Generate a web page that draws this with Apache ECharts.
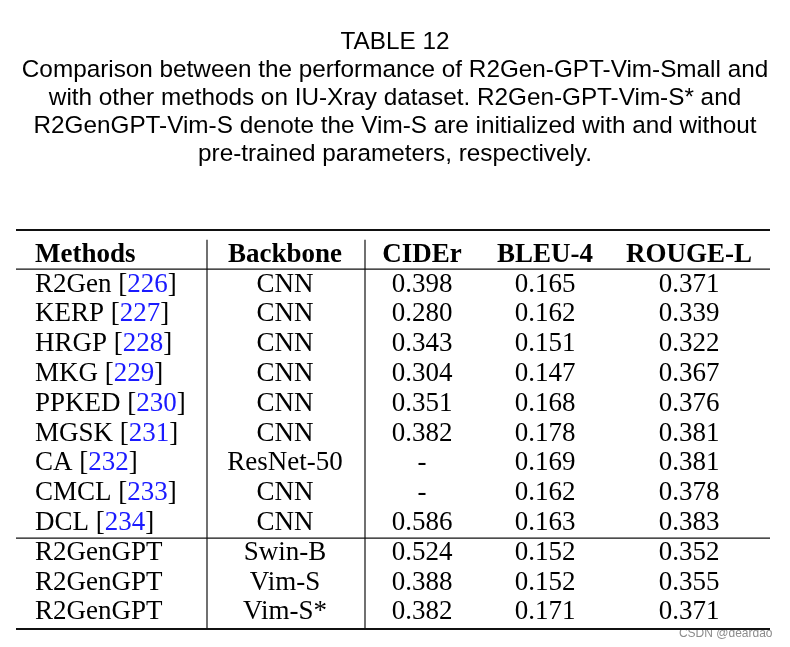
<!DOCTYPE html>
<html>
<head>
<meta charset="utf-8">
<script src="https://cdn.jsdelivr.net/npm/echarts@6/dist/echarts.min.js"></script>
<style>
html,body{margin:0;padding:0;background:#fff;}
#chart{width:790px;height:647px;}
</style>
</head>
<body>
<div id="chart"></div>
<script>
// ---- data ----
var titleText = 'TABLE 12';
var captionLines = [
  'Comparison between the performance of R2Gen-GPT-Vim-Small and',
  'with other methods on IU-Xray dataset. R2Gen-GPT-Vim-S* and',
  'R2GenGPT-Vim-S denote the Vim-S are initialized with and without',
  'pre-trained parameters, respectively.'
];
var headers = ['Methods', 'Backbone', 'CIDEr', 'BLEU-4', 'ROUGE-L'];
var methods = ['R2Gen', 'KERP', 'HRGP', 'MKG', 'PPKED', 'MGSK', 'CA', 'CMCL', 'DCL', 'R2GenGPT', 'R2GenGPT', 'R2GenGPT'];
var refs = ['226', '227', '228', '229', '230', '231', '232', '233', '234', '', '', ''];
var backbones = ['CNN', 'CNN', 'CNN', 'CNN', 'CNN', 'CNN', 'ResNet-50', 'CNN', 'CNN', 'Swin-B', 'Vim-S', 'Vim-S*'];
var cider = [0.398, 0.280, 0.343, 0.304, 0.351, 0.382, null, null, 0.586, 0.524, 0.388, 0.382];
var bleu4 = [0.165, 0.162, 0.151, 0.147, 0.168, 0.178, 0.169, 0.162, 0.163, 0.152, 0.152, 0.171];
var rougeL = [0.371, 0.339, 0.322, 0.367, 0.376, 0.381, 0.381, 0.378, 0.383, 0.352, 0.355, 0.371];
var watermark = 'CSDN @deardao';

// ---- layout (axis units) ----
var colX = [19, 269, 406, 529, 673];
var colAlign = ['left', 'center', 'center', 'center', 'center'];
var hRules = [[-0.78, 2.2], [0.53, 1.2], [9.56, 1.2], [12.61, 2.2]];
var vRules = [191, 349];
var vTop = -0.45, vBottom = 12.61;
var textShiftY = 1.5;

var serif = '"Liberation Serif", "Times New Roman", serif';
var sans = '"Liberation Sans", Arial, Helvetica, sans-serif';

function fmt(v) { return v == null ? '-' : v.toFixed(3); }

var rowData = [[0, 0]];
for (var i = 0; i < methods.length; i++) rowData.push([0, i + 1]);

var captionGraphics = [titleText].concat(captionLines).map(function (t, i) {
  return {
    type: 'text', x: 395, y: 42 + i * 28,
    style: {text: t, align: 'center', verticalAlign: 'middle', fontFamily: sans, fontSize: 24.3, fill: '#000'}
  };
});

var chart = echarts.init(document.getElementById('chart'), null, {renderer: 'canvas'});
chart.setOption({
  animation: false,
  backgroundColor: '#ffffff',
  grid: {left: 16, width: 754, top: 230, height: 399},
  xAxis: {type: 'value', min: 0, max: 754, show: false},
  yAxis: {type: 'value', min: -0.78, max: 12.61, inverse: true, show: false},
  graphic: captionGraphics.concat([{
    type: 'text', right: 17, top: 627,
    style: {text: watermark, fontFamily: sans, fontSize: 12, fill: '#8c8c8c', stroke: '#fff', lineWidth: 1}
  }]),
  series: [
    {
      type: 'custom',
      clip: false,
      silent: true,
      data: hRules,
      renderItem: function (params, api) {
        var y = api.value(0), w = api.value(1);
        var p0 = api.coord([0, y]), p1 = api.coord([754, y]);
        return {type: 'line', shape: {x1: p0[0], y1: p0[1], x2: p1[0], y2: p1[1]},
          style: {stroke: '#111', lineWidth: w}};
      }
    },
    {
      type: 'custom',
      clip: false,
      silent: true,
      data: vRules.map(function (x) { return [x]; }),
      renderItem: function (params, api) {
        var x = api.value(0);
        var p0 = api.coord([x, vTop]), p1 = api.coord([x, vBottom]);
        return {type: 'line', shape: {x1: p0[0], y1: p0[1], x2: p1[0], y2: p1[1]},
          style: {stroke: '#111', lineWidth: 1.2}};
      }
    },
    {
      type: 'custom',
      clip: false,
      silent: true,
      data: rowData,
      renderItem: function (params, api) {
        var r = api.value(1);
        var y = api.coord([0, r])[1] + textShiftY;
        var texts;
        var header = r === 0;
        if (header) {
          texts = headers.slice();
        } else {
          var k = r - 1;
          var m = refs[k] ? '{a|' + methods[k] + ' [}{b|' + refs[k] + '}{a|]}' : '{a|' + methods[k] + '}';
          texts = [m, backbones[k], fmt(cider[k]), fmt(bleu4[k]), fmt(rougeL[k])];
        }
        var children = texts.map(function (t, c) {
          var x = api.coord([colX[c], r])[0];
          var st = {
            text: t, x: x, y: y,
            align: colAlign[c], verticalAlign: 'middle',
            fontFamily: serif, fontSize: 27, fontWeight: header ? 'bold' : 'normal', fill: '#000'
          };
          if (!header && c === 0) {
            st.rich = {
              a: {fontFamily: serif, fontSize: 27, fill: '#000'},
              b: {fontFamily: serif, fontSize: 27, fill: '#1a1aff'}
            };
          }
          return {type: 'text', style: st};
        });
        return {type: 'group', children: children};
      }
    }
  ]
});
</script>
</body>
</html>
